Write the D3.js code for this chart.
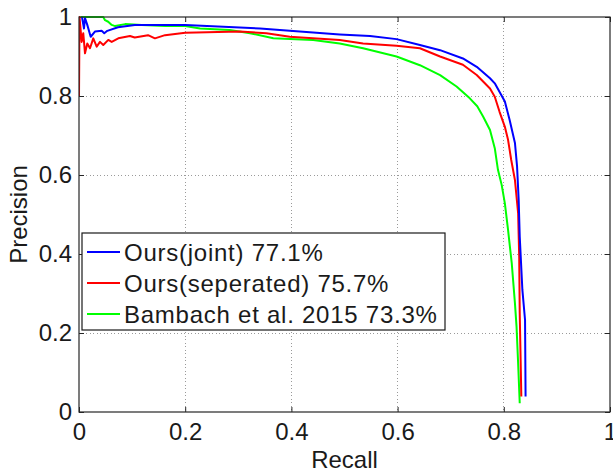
<!DOCTYPE html>
<html>
<head>
<meta charset="utf-8">
<script src="https://cdn.jsdelivr.net/npm/d3@7"></script>
<style>
  html, body { margin: 0; padding: 0; background: #fff; }
  svg { display: block; }
  text { font-family: "Liberation Sans", Arial, sans-serif; fill: #1a1a1a; }
</style>
</head>
<body>
<div id="chart"></div>
<script>
(function () {
  'use strict';

  /* ── Data ── */
  var ticks = [0, 0.2, 0.4, 0.6, 0.8, 1];
  var tickLabels = ['0', '0.2', '0.4', '0.6', '0.8', '1'];

  var jointRecall = [0.0056, 0.0094, 0.0113, 0.0156, 0.022, 0.030, 0.0427, 0.0476, 0.0533, 0.0734, 0.105, 0.149, 0.20, 0.341, 0.397, 0.491, 0.548, 0.598, 0.642, 0.680, 0.723, 0.749, 0.774, 0.783, 0.802, 0.811, 0.821, 0.825, 0.828, 0.830, 0.835, 0.840, 0.841];
  var jointPrecision = [1.0, 0.971, 0.997, 0.980, 0.950, 0.963, 0.965, 0.959, 0.965, 0.974, 0.980, 0.980, 0.980, 0.971, 0.965, 0.956, 0.952, 0.944, 0.929, 0.916, 0.895, 0.874, 0.845, 0.832, 0.786, 0.739, 0.681, 0.621, 0.537, 0.444, 0.309, 0.233, 0.039];

  var sepRecall = [0, 0.001, 0.005, 0.008, 0.0113, 0.0156, 0.0207, 0.0269, 0.0333, 0.0395, 0.0457, 0.0552, 0.0616, 0.074, 0.096, 0.105, 0.130, 0.143, 0.162, 0.20, 0.303, 0.353, 0.397, 0.491, 0.535, 0.598, 0.642, 0.680, 0.723, 0.749, 0.774, 0.783, 0.792, 0.802, 0.808, 0.814, 0.821, 0.827, 0.829, 0.830, 0.833];
  var sepPrecision = [0.8, 1.0, 0.937, 0.959, 0.908, 0.933, 0.921, 0.946, 0.925, 0.937, 0.929, 0.942, 0.937, 0.946, 0.952, 0.948, 0.954, 0.946, 0.954, 0.960, 0.963, 0.959, 0.950, 0.942, 0.933, 0.927, 0.921, 0.900, 0.879, 0.853, 0.819, 0.798, 0.760, 0.722, 0.689, 0.638, 0.587, 0.503, 0.393, 0.250, 0.039];

  var bamRecall = [0.003, 0.0457, 0.049, 0.055, 0.0616, 0.068, 0.087, 0.118, 0.162, 0.20, 0.228, 0.284, 0.322, 0.366, 0.397, 0.441, 0.491, 0.535, 0.598, 0.642, 0.680, 0.711, 0.736, 0.750, 0.761, 0.774, 0.783, 0.789, 0.796, 0.802, 0.808, 0.815, 0.821, 0.824, 0.827, 0.830];
  var bamPrecision = [1.0, 1.0, 0.992, 0.988, 0.980, 0.977, 0.982, 0.980, 0.977, 0.977, 0.971, 0.967, 0.959, 0.946, 0.944, 0.942, 0.933, 0.921, 0.900, 0.878, 0.853, 0.824, 0.794, 0.774, 0.748, 0.714, 0.668, 0.613, 0.575, 0.528, 0.461, 0.376, 0.275, 0.216, 0.123, 0.022];

  var seriesNames = ['Ours(joint) 77.1%', 'Ours(seperated) 75.7%', 'Bambach et al. 2015 73.3%'];
  var seriesColors = ['#0000ff', '#ff0000', '#00ff00'];

  var series = [
    { r: jointRecall, p: jointPrecision },
    { r: sepRecall, p: sepPrecision },
    { r: bamRecall, p: bamPrecision }
  ];

  /* ── Layout ── */
  var W = 613, H = 472;
  var L = 79, R = 610, T = 17, B = 412;

  var svg = d3.select('#chart').append('svg')
    .attr('width', W).attr('height', H);

  var x = d3.scaleLinear().domain([0, 1]).range([L, R]);
  var y = d3.scaleLinear().domain([0, 1]).range([B, T]);

  svg.append('defs').append('clipPath').attr('id', 'plotclip')
    .append('rect').attr('x', L).attr('y', T - 1).attr('width', R - L).attr('height', B - T + 2);

  /* Grid */
  var grid = svg.append('g').attr('stroke', '#9a9a9a').attr('stroke-width', 1)
    .attr('stroke-dasharray', '1,2.5').attr('shape-rendering', 'crispEdges');
  ticks.slice(1, -1).forEach(function (t) {
    grid.append('line').attr('x1', x(t)).attr('x2', x(t)).attr('y1', T).attr('y2', B);
    grid.append('line').attr('x1', L).attr('x2', R).attr('y1', y(t)).attr('y2', y(t));
  });

  /* Axes with inward ticks on all four sides */
  function tickAxis(axis, tr) {
    var g = svg.append('g').attr('transform', tr)
      .call(axis.tickValues(ticks).tickSize(-5).tickFormat(function (d, i) { return tickLabels[i]; }));
    g.select('.domain').remove();
    g.selectAll('.tick line').attr('stroke', '#262626');
    return g;
  }

  var xb = tickAxis(d3.axisBottom(x).tickPadding(11), 'translate(0,' + B + ')');
  xb.selectAll('text').attr('font-size', 24).attr('font-family', '"Liberation Sans", Arial, sans-serif').attr('fill', '#1a1a1a');

  var yl = tickAxis(d3.axisLeft(y).tickPadding(7), 'translate(' + L + ',0)');
  yl.selectAll('text').attr('font-size', 24).attr('font-family', '"Liberation Sans", Arial, sans-serif').attr('fill', '#1a1a1a');

  var xt = tickAxis(d3.axisTop(x), 'translate(0,' + T + ')');
  xt.selectAll('text').remove();
  var yr = tickAxis(d3.axisRight(y), 'translate(' + R + ',0)');
  yr.selectAll('text').remove();

  /* Curves */
  var line = d3.line()
    .x(function (d) { return x(d[0]); })
    .y(function (d) { return y(d[1]); });

  var curveG = svg.append('g').attr('clip-path', 'url(#plotclip)');
  // draw green first so blue sits on top
  [2, 1, 0].forEach(function (i) {
    var pts = d3.zip(series[i].r, series[i].p);
    curveG.append('path')
      .attr('d', line(pts))
      .attr('fill', 'none')
      .attr('stroke', seriesColors[i])
      .attr('stroke-width', 2)
      .attr('stroke-linejoin', 'round');
  });

  /* Box */
  svg.append('rect')
    .attr('x', L).attr('y', T).attr('width', R - L).attr('height', B - T)
    .attr('fill', 'none').attr('stroke', '#262626').attr('stroke-width', 1.2);

  /* Axis labels */
  svg.append('text')
    .attr('x', (L + R) / 2).attr('y', 468)
    .attr('text-anchor', 'middle').attr('font-size', 24)
    .text('Recall');

  svg.append('text')
    .attr('transform', 'translate(27,' + ((T + B) / 2) + ') rotate(-90)')
    .attr('text-anchor', 'middle').attr('font-size', 24)
    .text('Precision');

  /* Legend */
  var lg = svg.append('g');
  lg.append('rect')
    .attr('x', 82).attr('y', 233).attr('width', 363).attr('height', 97)
    .attr('fill', '#fff').attr('stroke', '#1a1a1a').attr('stroke-width', 1.2);

  seriesNames.forEach(function (name, i) {
    var cy = 252 + i * 31;
    lg.append('line')
      .attr('x1', 87).attr('x2', 120).attr('y1', cy).attr('y2', cy)
      .attr('stroke', seriesColors[i]).attr('stroke-width', 2);
    lg.append('text')
      .attr('x', 124).attr('y', cy + 8.5)
      .attr('font-size', 24)
      .attr('letter-spacing', 0.75)
      .text(name);
  });
})();
</script>
</body>
</html>
